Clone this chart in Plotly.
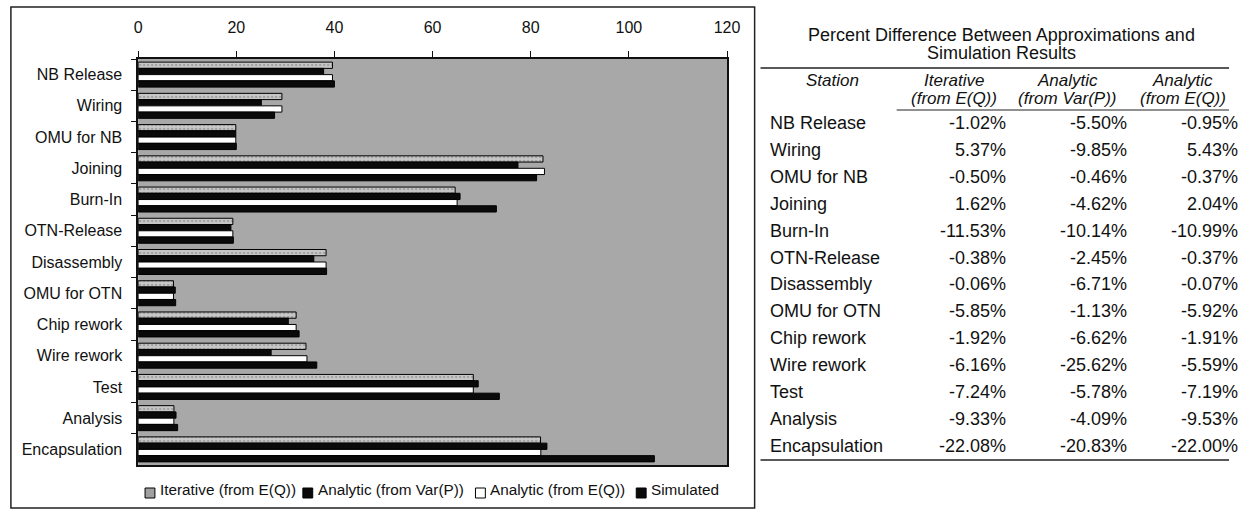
import plotly.graph_objects as go

W, H = 1247, 510

stations = ["NB Release", "Wiring", "OMU for NB", "Joining", "Burn-In", "OTN-Release",
            "Disassembly", "OMU for OTN", "Chip rework", "Wire rework", "Test", "Analysis",
            "Encapsulation"]
iterative = [39.6, 29.3, 19.9, 82.5, 64.6, 19.3, 38.3, 7.2, 32.2, 34.2, 68.3, 7.3, 82.0]
analytic_var = [37.8, 25.1, 19.9, 77.4, 65.6, 18.9, 35.8, 7.56, 30.6, 27.1, 69.3, 7.72, 83.3]
analytic_eq = [39.6, 29.3, 19.9, 82.8, 65.0, 19.3, 38.3, 7.2, 32.2, 34.4, 68.3, 7.28, 82.06]
simulated = [40.0, 27.8, 20.0, 81.2, 73.0, 19.4, 38.4, 7.65, 32.8, 36.4, 73.6, 8.05, 105.2]
x_ticks = [0, 20, 40, 60, 80, 100, 120]

series_names = ["Iterative (from E(Q))", "Analytic (from Var(P))", "Analytic (from E(Q))", "Simulated"]

table_title = ["Percent Difference Between Approximations and", "Simulation Results"]
table_head1 = ["Station", "Iterative", "Analytic", "Analytic"]
table_head2 = ["", "(from E(Q))", "(from Var(P))", "(from E(Q))"]
pct_iterative = ["-1.02%", "5.37%", "-0.50%", "1.62%", "-11.53%", "-0.38%", "-0.06%",
                 "-5.85%", "-1.92%", "-6.16%", "-7.24%", "-9.33%", "-22.08%"]
pct_analytic_var = ["-5.50%", "-9.85%", "-0.46%", "-4.62%", "-10.14%", "-2.45%", "-6.71%",
                    "-1.13%", "-6.62%", "-25.62%", "-5.78%", "-4.09%", "-20.83%"]
pct_analytic_eq = ["-0.95%", "5.43%", "-0.37%", "2.04%", "-10.99%", "-0.37%", "-0.07%",
                   "-5.92%", "-1.91%", "-5.59%", "-7.19%", "-9.53%", "-22.00%"]

FONT = "Liberation Sans, Arial, sans-serif"
TXT = "#111111"


def px(x):
    return x / W


def py(y):
    return 1 - y / H


fig = go.Figure()
line = dict(color="black", width=1)
colors = ["#c4c4c4", "#0a0a0a", "#ffffff", "#0a0a0a"]
fig.add_trace(go.Bar(y=stations, x=iterative, orientation="h", name=series_names[0],
                     marker=dict(color=colors[0], line=line,
                                 pattern=dict(shape=".", fgcolor="#7a7a7a", bgcolor="#c8c8c8",
                                              size=4, solidity=0.3))))
fig.add_trace(go.Bar(y=stations, x=analytic_var, orientation="h", name=series_names[1],
                     marker=dict(color=colors[1], line=line)))
fig.add_trace(go.Bar(y=stations, x=analytic_eq, orientation="h", name=series_names[2],
                     marker=dict(color=colors[2], line=line)))
fig.add_trace(go.Bar(y=stations, x=simulated, orientation="h", name=series_names[3],
                     marker=dict(color=colors[3], line=line)))

shapes = []
annotations = []
# chart frame
shapes.append(dict(type="rect", xref="paper", yref="paper", x0=px(7), x1=px(761),
                   y0=py(508), y1=py(7), line=dict(color="#222", width=1.5)))

# legend drawn below the plot area (Excel style, tight symbol/text spacing)
leg_sym_x = [143, 303, 478, 641]
for i, name in enumerate(series_names):
    shapes.append(dict(type="rect", xref="paper", yref="paper", x0=px(leg_sym_x[i]),
                       x1=px(leg_sym_x[i] + 10), y0=py(498), y1=py(488),
                       fillcolor=colors[i] if i != 0 else "#a0a0a0",
                       line=dict(color="black", width=1)))
    annotations.append(dict(text=name, x=px(leg_sym_x[i] + 13), y=py(489), xref="paper",
                            yref="paper", showarrow=False, xanchor="left", yanchor="middle",
                            font=dict(size=15.3, family=FONT, color=TXT)))

# table title
for k, t in enumerate(table_title):
    annotations.append(dict(text=t, x=px(1011), y=py(35 + 18 * k), xref="paper", yref="paper",
                            showarrow=False, xanchor="center", yanchor="middle",
                            font=dict(size=18, family=FONT, color=TXT)))
shapes.append(dict(type="line", xref="paper", yref="paper", x0=px(767), x1=px(1242),
                   y0=py(68), y1=py(68), line=dict(color="#222", width=1.5)))
head_x = [840, 963, 1078, 1195]
for i in range(4):
    annotations.append(dict(text="<i>%s</i>" % table_head1[i], x=px(head_x[i]), y=py(80),
                            xref="paper", yref="paper", showarrow=False, xanchor="center",
                            yanchor="middle", font=dict(size=17, family=FONT, color=TXT)))
    if table_head2[i]:
        annotations.append(dict(text="<i>%s</i>" % table_head2[i], x=px(head_x[i]), y=py(99),
                                xref="paper", yref="paper", showarrow=False, xanchor="center",
                                yanchor="middle", font=dict(size=17, family=FONT, color=TXT)))
shapes.append(dict(type="line", xref="paper", yref="paper", x0=px(905), x1=px(1242),
                   y0=py(110), y1=py(110), line=dict(color="#222", width=1)))

row_y0, row_dy = 123, 26.9
col_right = [1018, 1141, 1253]
for r, st in enumerate(stations):
    yy = py(row_y0 + r * row_dy)
    annotations.append(dict(text=st, x=px(775), y=yy, xref="paper", yref="paper",
                            showarrow=False, xanchor="left", yanchor="middle",
                            font=dict(size=18, family=FONT, color=TXT)))
    for c, vals in enumerate([pct_iterative, pct_analytic_var, pct_analytic_eq]):
        annotations.append(dict(text=vals[r], x=px(col_right[c]), y=yy, xref="paper",
                                yref="paper", showarrow=False, xanchor="right",
                                yanchor="middle", font=dict(size=18, family=FONT, color=TXT)))
shapes.append(dict(type="line", xref="paper", yref="paper", x0=px(767), x1=px(1242),
                   y0=py(460), y1=py(460), line=dict(color="#222", width=1.5)))

fig.update_layout(
    width=W, height=H,
    margin=dict(l=0, r=0, t=0, b=0),
    paper_bgcolor="white",
    plot_bgcolor="#a8a8a8",
    barmode="group",
    bargap=0.2,
    bargroupgap=0,
    font=dict(family=FONT, size=15, color=TXT),
    showlegend=False,
    xaxis=dict(domain=[px(136), px(733)], range=[0, 120], side="top", tickvals=x_ticks,
               ticks="outside", ticklen=6, tickcolor="#111", showgrid=False, zeroline=False,
               showline=True, linecolor="#111", linewidth=1.5, mirror=True,
               ticklabelstandoff=12, tickfont=dict(size=16, family=FONT, color=TXT)),
    yaxis=dict(domain=[py(465), py(59)], autorange="reversed", type="category",
               ticks="outside", ticklen=5, tickson="boundaries", tickcolor="#111",
               showgrid=False, showline=True, linecolor="#111", linewidth=1.5, mirror=True,
               ticklabelstandoff=11, tickfont=dict(size=16, family=FONT, color=TXT)),
    shapes=shapes,
    annotations=annotations,
)

fig.write_html("out.html")
